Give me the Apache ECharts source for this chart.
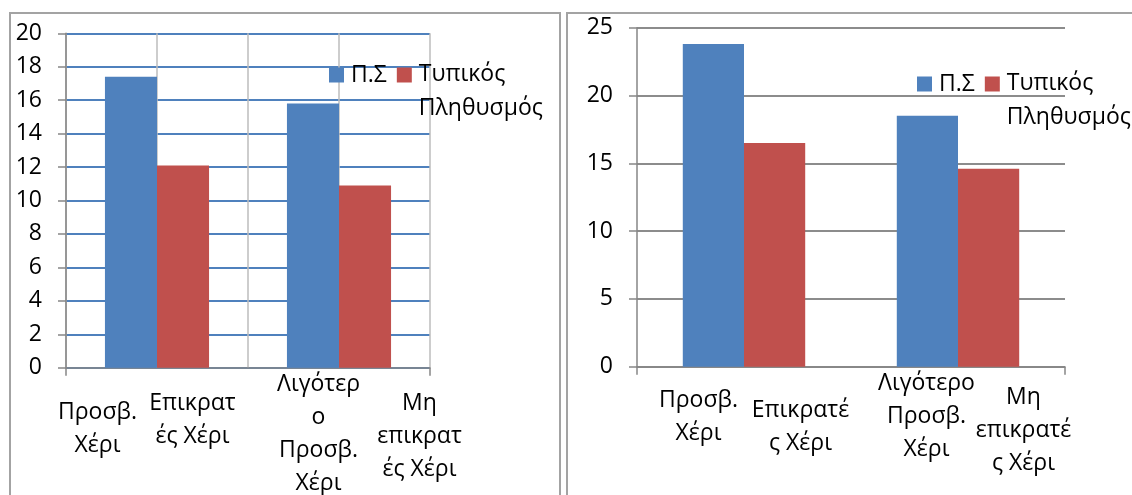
<!DOCTYPE html>
<html>
<head>
<meta charset="utf-8">
<script src="https://cdn.jsdelivr.net/npm/echarts@6/dist/echarts.min.js"></script>
<style>
  html, body { margin: 0; padding: 0; width: 1132px; height: 495px; overflow: hidden; background: #fff; }
  .panel { position: absolute; top: 12px; border: 2px solid #a3a3a3; }
  #left { left: 9px; width: 548px; height: 500px; }
  #right { left: 566px; width: 600px; height: 500px; }
</style>
</head>
<body>
<div id="left" class="panel"></div>
<div id="right" class="panel"></div>
<script>
// Series shared by both panels
const seriesNames = ['Π.Σ', 'Τυπικός Πληθυσμός'];

// Left panel
const groupsLeft = ['Προσβ. Χέρι / Επικρατές Χέρι', 'Λιγότερο Προσβ. Χέρι / Μη επικρατές Χέρι'];
const tickLabelsLeft = ['Προσβ.\nΧέρι', 'Επικρατ\nές Χέρι', 'Λιγότερ\nο\nΠροσβ.\nΧέρι', 'Μη\nεπικρατ\nές Χέρι'];
const psLeft = [17.4, 15.8];
const typicalLeft = [12.1, 10.9];

// Right panel
const groupsRight = ['Προσβ. Χέρι / Επικρατές Χέρι', 'Λιγότερο Προσβ. Χέρι / Μη επικρατές Χέρι'];
const tickLabelsRight = ['Προσβ.\nΧέρι', 'Επικρατέ\nς Χέρι', 'Λιγότερο\nΠροσβ.\nΧέρι', 'Μη\nεπικρατέ\nς Χέρι'];
const psRight = [23.8, 18.5];
const typicalRight = [16.5, 14.6];

const FONT = 'Open Sans';
const FS = 23;
const AXIS_GRAY = '#868686';

// label nudges [dx, dy] for the wrapped category captions
function captionData(labels, nudges) {
  return labels.map(function (text, i) {
    const dx = nudges[i][0], dy = nudges[i][1];
    const padL = dx > 0 ? 2 * dx : 0;
    const padR = dx < 0 ? -2 * dx : 0;
    return { value: text, textStyle: { padding: [dy, padR, 0, padL] } };
  });
}

function buildOption(cfg) {
  return {
    animation: false,
    color: ['#4F81BD', '#C0504D'],
    textStyle: { fontFamily: FONT },
    legend: {
      left: cfg.legendLeft,
      top: cfg.legendTop,
      padding: 0,
      itemWidth: 15,
      itemHeight: 15,
      itemGap: 10,
      icon: 'rect',
      data: seriesNames,
      formatter: function (name) {
        const parts = name.split(' ');
        return parts.length > 1 ? '{a|' + parts[0] + '}\n{b|' + parts.slice(1).join(' ') + '}' : '{a|' + name + '}';
      },
      textStyle: {
        fontFamily: FONT, fontSize: FS, color: '#000',
        rich: {
          a: { fontFamily: FONT, fontSize: FS, color: '#000', lineHeight: 66, padding: [0, 0, 0, 2] },
          b: { fontFamily: FONT, fontSize: FS, color: '#000', lineHeight: 1, padding: [0, 0, 0, 2] }
        }
      }
    },
    grid: {
      left: cfg.grid[0], top: cfg.grid[1], width: cfg.grid[2], height: cfg.grid[3],
      outerBoundsMode: 'none'
    },
    xAxis: [
      {
        type: 'category',
        data: cfg.groups,
        axisLine: { lineStyle: { color: AXIS_GRAY, width: 1.5 } },
        axisTick: { show: true, length: 8, lineStyle: { color: AXIS_GRAY, width: 1.5 } },
        axisLabel: { show: false },
        splitLine: { show: false }
      },
      {
        type: 'category',
        position: 'bottom',
        data: captionData(cfg.captions, cfg.nudges),
        axisLine: { show: false },
        axisTick: { show: false },
        axisLabel: {
          interval: 0, margin: 0, hideOverlap: false,
          fontFamily: FONT, fontSize: FS, lineHeight: 33, color: '#000'
        },
        splitLine: { show: cfg.vGrid, lineStyle: { color: '#bdbdbd', width: 1.5 } }
      }
    ],
    yAxis: {
      type: 'value',
      min: 0, max: cfg.max, interval: cfg.interval,
      axisLine: { show: true, lineStyle: { color: AXIS_GRAY, width: 1.5 } },
      axisTick: { show: true, length: 8, lineStyle: { color: AXIS_GRAY, width: 1.5 } },
      axisLabel: { margin: 24, fontFamily: FONT, fontSize: FS, color: '#000' },
      splitLine: { show: true, lineStyle: { color: cfg.hGridColor, width: 2 } }
    },
    series: [
      { type: 'bar', name: seriesNames[0], data: cfg.ps, xAxisIndex: 0, barWidth: '28.6%', barGap: '0%' },
      { type: 'bar', name: seriesNames[1], data: cfg.typical, xAxisIndex: 0, barWidth: '28.6%', barGap: '0%' }
    ]
  };
}

const leftChart = echarts.init(document.getElementById('left'), null, { renderer: 'canvas' });
leftChart.setOption(buildOption({
  groups: groupsLeft, captions: tickLabelsLeft, ps: psLeft, typical: typicalLeft,
  max: 20, interval: 2,
  grid: [55, 19.3, 364, 334.4],
  nudges: [[-14, 28], [-10, 19], [25, 0], [35, 19]],
  vGrid: true, hGridColor: '#4F81BD',
  legendLeft: 318, legendTop: 49
}));

const rightChart = echarts.init(document.getElementById('right'), null, { renderer: 'canvas' });
rightChart.setOption(buildOption({
  groups: groupsRight, captions: tickLabelsRight, ps: psRight, typical: typicalRight,
  max: 25, interval: 5,
  grid: [69, 13.7, 428, 339],
  nudges: [[8, 17], [3, 27], [22, 0], [12, 14]],
  vGrid: false, hGridColor: '#8c8c8c',
  legendLeft: 349, legendTop: 58
}));
</script>
</body>
</html>
